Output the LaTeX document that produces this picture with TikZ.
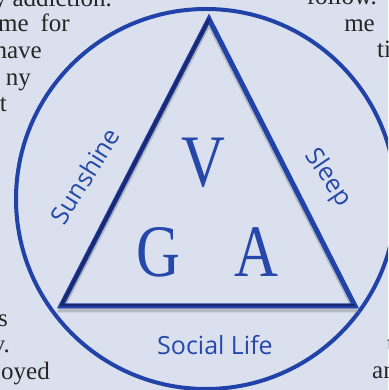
\documentclass[tikz,border=0pt]{standalone}
\usepackage{fontspec}
\setmainfont{Liberation Serif}
\newfontfamily\labelfont{Open Sans}
\newfontfamily\letterfont[FakeStretch=0.82]{Liberation Serif}
\usetikzlibrary{positioning}
\definecolor{pagebg}{RGB}{218,224,238}
\definecolor{ringblue}{RGB}{33,66,168}
\definecolor{navy}{RGB}{26,40,112}
\definecolor{letterblue}{RGB}{38,72,170}
\tikzstyle{bodytext} = [inner sep=0pt, font=\fontsize{25}{26}\selectfont, text=black!85]
\tikzstyle{letter} = [inner sep=0pt, font=\letterfont\fontsize{74}{74}\selectfont, text=letterblue]
\tikzstyle{side} = [inner sep=0pt, font=\labelfont\fontsize{25}{25}\selectfont, text=letterblue]
\tikzstyle{edge} = [line width=5pt, line join=miter, ringblue]
\tikzstyle{shade} = [line width=5pt, line join=miter, black!45, opacity=0.45]

\begin{document}
\begin{tikzpicture}[x=1pt, y=1pt]
    \useasboundingbox (0,0) rectangle (388,390);
    \clip (0,0) rectangle (388,390);
    \fill [pagebg] (0,0) rectangle (388,390);

    \node (l1) [bodytext, anchor=base east] at (112,383) {y addiction.};
    \node (l2) [bodytext, anchor=base east] at (70,358) {me\hspace{12pt}for};
    \node (l3) [bodytext, anchor=base east] at (42,331) {have};
    \node (l4) [bodytext, anchor=base east] at (31,304) {ny};
    \node (l5) [bodytext, anchor=base east] at (7,278) {t};
    \node (l6) [bodytext, anchor=base east] at (8,63) {s};
    \node (l7) [bodytext, anchor=base east] at (10,37) {v.};
    \node (l8) [bodytext, anchor=base east] at (50,10) {oyed};
    \node (r1) [bodytext, anchor=base east] at (377,385) {follow.};
    \node (r2) [bodytext, anchor=base east] at (375,358) {me};
    \node (r3) [bodytext, anchor=base west] at (377,332) {ti};
    \node (r4) [bodytext, anchor=base west] at (387,38) {t};
    \node (r5) [bodytext, anchor=base west] at (372,12) {an};

    \coordinate (ctr) at (206,191);
    \coordinate (top) at (209,371);
    \coordinate (left) at (61,84);
    \coordinate (right) at (355,84);

    \draw [ringblue, line width=4pt] (ctr) circle (190);

    \draw [shade] ([yshift=-4pt]top) -- ([yshift=-4pt]left) -- ([yshift=-4pt]right) -- cycle;
    \draw [edge] (top) -- (left) -- (right) -- cycle;
    \draw [navy, line width=3pt] (top) -- (left);
    \draw [navy, line width=2pt] ([yshift=1pt]left) -- ([yshift=1pt]right);

    \node (V) [letter] at (203,227) {V};
    \node (G) [letter] at (158,138) {G};
    \node (A) [letter] at (256,138) {A};

    \node (sun) [side, rotate=58] at (85,214) {Sunshine};
    \node (sleep) [side, rotate=-56] at (328,212) {Sleep};
    \node (social) [side, anchor=base] at (215,35) {Social Life};
\end{tikzpicture}
\end{document}
